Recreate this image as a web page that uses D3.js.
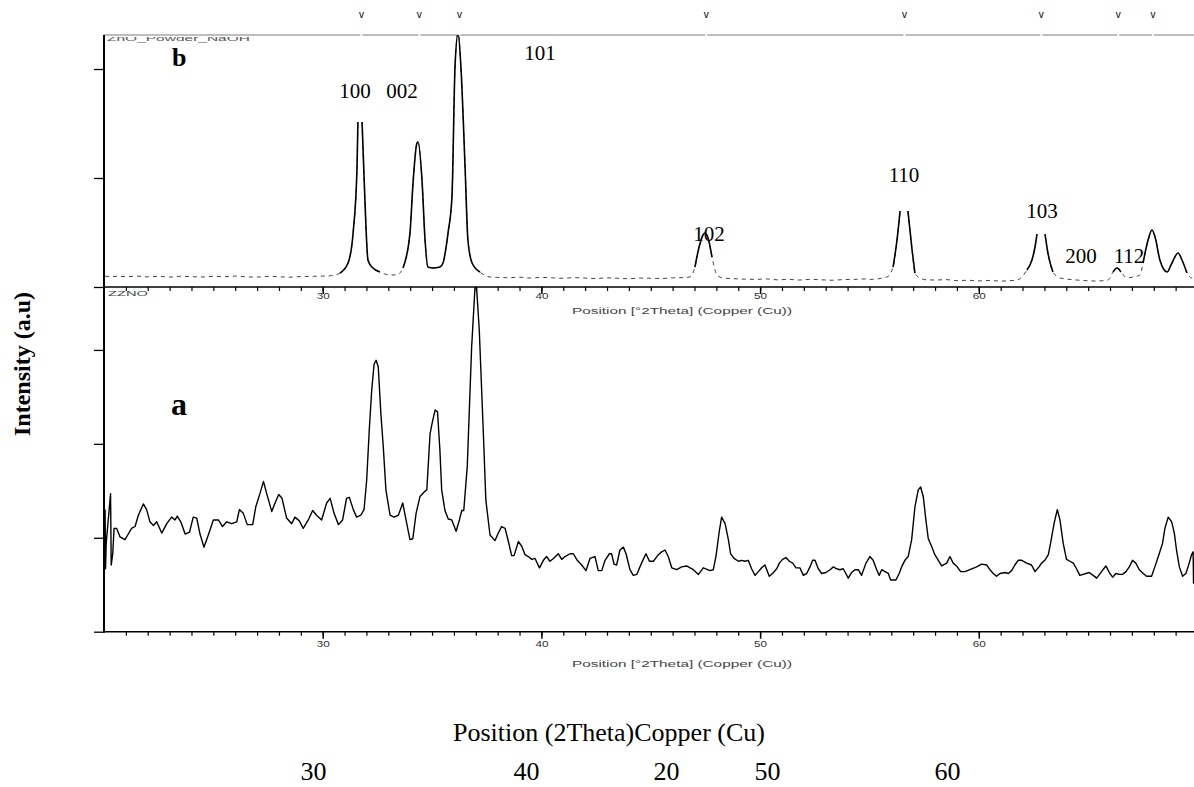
<!DOCTYPE html>
<html>
<head>
<meta charset="utf-8">
<script src="https://cdn.jsdelivr.net/npm/d3@7"></script>
<style>
  html, body { margin: 0; padding: 0; background: #fff; }
  svg { display: block; }
</style>
</head>
<body>
<svg id="chart" width="1194" height="787"></svg>
<script>
// reference peak positions (ZnO, 2theta) marked with "v" above panel b
var refPeaks = [31.77, 34.42, 36.25, 47.54, 56.60, 62.86, 66.38, 67.96];

// panel b : ZnO_Powder_NaOH  [2theta, counts]  (null = peak top hidden)
var scanB = [
  [20.05,100],[20.3,94],[20.6,99],[21.0,95],[21.5,100],[22.0,93],[22.5,97],[23.0,91],
  [23.5,99],[24.0,95],[24.5,92],[25.0,98],[25.5,94],[26.0,100],[26.5,93],[27.0,91],
  [27.5,98],[28.0,94],[28.5,90],[29.0,96],[29.5,98],[30.0,100],[30.4,104],
  [30.79,128],[31.16,220],[31.39,495],[31.57,1101],[31.61,1514],[31.71,null],[31.80,1514],
  [31.93,798],[32.07,248],[32.25,183],[32.62,138],[33.08,110],[33.4,112],
  [33.67,174],[33.99,495],[34.13,954],[34.31,1321],[34.36,1330],[34.54,982],[34.68,431],
  [34.81,183],[35.04,174],[35.36,183],
  [35.50,220],[35.73,495],[35.91,826],[36.05,2018],[36.19,2330],[36.32,2018],[36.51,1101],
  [36.64,431],[36.83,220],[37.19,138],[37.65,92],
  [38.0,88],[38.5,85],[39.0,90],[39.5,82],[40.0,88],[40.5,84],[41.0,80],[41.5,86],[42.0,82],
  [42.5,78],[43.0,84],[43.5,80],[44.0,76],[44.5,82],[45.0,80],[45.5,78],[46.0,84],[46.5,86],
  [46.79,92],[47.02,183],[47.21,367],[47.39,477],[47.48,495],[47.62,450],[47.80,275],
  [48.03,110],[48.30,83],
  [48.8,76],[49.3,72],[49.8,70],[50.3,74],[50.8,66],[51.3,70],[51.8,64],[52.3,70],[52.8,66],
  [53.3,62],[53.8,68],[54.3,70],[54.8,74],[55.03,70],
  [55.80,92],[56.08,183],[56.26,431],[56.40,697],[56.53,null],[56.76,697],[56.95,339],
  [57.08,128],[57.31,83],[57.6,66],[58.09,64],
  [58.5,68],[59.0,58],[59.5,62],[60.0,56],[60.5,60],[61.0,54],[61.4,58],[61.75,64],
  [62.20,156],[62.43,248],[62.57,367],[62.66,486],[62.85,null],[63.03,486],[63.16,312],
  [63.39,138],[63.71,83],[64.49,64],[65.40,55],
  [65.91,64],[66.14,138],[66.32,174],[66.50,138],[66.78,83],[67.05,92],[67.37,110],
  [67.51,220],[67.74,431],[67.92,523],[68.06,459],[68.28,248],[68.61,138],[68.83,220],
  [69.11,312],[69.29,248],[69.52,128],[69.75,83],[69.84,92]
];

// panel a : ZZNO  [2theta, counts]
var scanA = [
  [20.05,130],[20.07,67],[20.10,94],[20.30,147],[20.33,71],[20.40,83],[20.46,110],[20.58,110],
  [20.73,101],[20.96,98],[21.11,104],[21.26,110],[21.42,112],[21.57,124],[21.80,136],[21.95,130],
  [22.10,117],[22.26,113],[22.41,117],[22.64,105],[22.87,115],[23.09,122],[23.25,119],[23.35,123],
  [23.51,117],[23.71,104],[23.91,106],[24.08,122],[24.24,121],[24.39,104],[24.57,90],[24.77,103],
  [25.00,119],[25.23,119],[25.42,112],[25.61,117],[25.84,115],[26.07,117],[26.19,130],[26.37,126],
  [26.55,114],[26.80,114],[26.94,133],[27.13,147],[27.29,160],[27.44,147],[27.67,128],[27.82,137],
  [27.99,146],[28.14,142],[28.35,121],[28.58,115],[28.73,122],[28.93,118],[29.11,110],[29.34,119],
  [29.54,129],[29.72,124],[29.95,119],[30.18,137],[30.34,142],[30.52,126],[30.72,114],[30.91,119],
  [31.09,142],[31.22,143],[31.40,130],[31.55,122],[31.74,124],[31.89,130],[32.01,161],[32.13,215],
  [32.24,257],[32.35,285],[32.44,289],[32.54,282],[32.66,232],[32.77,197],[32.89,151],[33.08,124],
  [33.26,122],[33.46,124],[33.66,137],[33.81,119],[33.99,98],[34.12,99],[34.27,126],[34.45,144],
  [34.65,149],[34.76,151],[34.91,211],[35.03,225],[35.14,236],[35.25,234],[35.36,193],[35.44,151],
  [35.59,129],[35.74,120],[35.90,119],[36.10,107],[36.25,119],[36.36,129],[36.45,129],[36.61,176],
  [36.81,303],[36.96,365],[37.00,372],[37.04,365],[37.16,321],[37.34,215],[37.46,140],[37.65,103],
  [37.88,97],[38.03,105],[38.18,112],[38.34,110],[38.49,96],
  [38.64,81],[38.75,81],[38.95,96],[39.10,91],[39.25,82],[39.40,80],[39.56,77],[39.71,78],
  [39.91,68],[40.09,76],[40.24,80],[40.39,75],[40.55,78],[40.77,83],[40.93,77],[41.08,80],
  [41.31,83],[41.46,83],[41.64,76],[41.84,71],[42.04,65],[42.22,78],[42.45,80],[42.60,65],
  [42.76,65],[42.91,76],[43.11,83],[43.21,83],[43.32,72],[43.44,71],[43.59,87],[43.75,90],
  [43.87,83],[44.05,66],[44.20,60],[44.36,61],[44.58,73],[44.78,83],[44.94,75],[45.12,75],
  [45.35,82],[45.50,85],[45.65,87],[45.80,80],[45.96,68],[46.19,66],[46.41,69],[46.64,70],
  [46.80,68],[46.95,66],[47.18,61],[47.40,68],[47.71,65],[47.86,66],[47.98,80],[48.14,108],
  [48.24,122],[48.40,115],[48.55,98],[48.65,83],[48.81,78],[49.01,75],[49.16,76],[49.31,75],
  [49.46,76],[49.61,67],[49.77,60],[49.92,64],[50.07,68],[50.22,71],[50.42,59],[50.57,62],
  [50.76,67],[50.88,73],[51.03,77],[51.18,79],[51.34,75],[51.49,73],[51.64,68],[51.82,68],
  [51.98,60],[52.13,62],[52.28,69],[52.40,76],[52.51,76],[52.66,67],[52.82,62],[53.01,63],
  [53.20,66],[53.35,69],[53.50,67],[53.65,66],[53.80,67],[53.92,62],[54.03,57],[54.18,63],
  [54.34,66],[54.49,66],[54.64,60],[54.84,73],[55.02,80],[55.17,76],[55.33,66],[55.45,60],
  [55.56,66],[55.71,64],[55.86,62],[55.97,55],[56.21,55],[56.36,62],[56.47,69],[56.62,76],
  [56.77,80],[56.93,98],[57.08,133],[57.23,151],[57.34,154],[57.46,144],[57.58,119],[57.69,99],
  [57.84,91],[57.99,82],[58.15,76],[58.30,70],[58.53,73],[58.68,80],[58.83,73],[58.98,70],
  [59.17,64],[59.37,64],[59.59,66],[59.90,69],[60.13,72],[60.36,71],[60.51,66],[60.66,62],
  [60.81,59],[60.97,62],[61.19,63],[61.35,62],[61.50,65],[61.65,71],[61.80,76],[61.96,76],
  [62.19,73],[62.41,71],[62.57,64],[62.72,68],[62.87,73],[63.02,76],[63.18,82],[63.28,94],
  [63.44,115],[63.59,130],[63.71,119],[63.86,94],[64.01,77],[64.17,75],[64.32,73],[64.47,67],
  [64.62,60],[65.05,63],[65.23,60],[65.39,57],[65.61,64],[65.81,70],[65.97,63],[66.12,58],
  [66.27,62],[66.42,61],[66.57,61],[66.73,64],[66.88,69],[67.03,76],[67.18,73],[67.34,66],
  [67.52,62],[67.67,59],[67.90,59],[68.05,69],[68.25,83],[68.40,94],[68.51,110],[68.66,122],
  [68.82,117],[68.94,105],[69.04,87],[69.17,69],[69.32,59],[69.47,62],[69.62,73],[69.73,82],
  [69.80,85],[69.82,51]
];

var majorTicks = [30, 40, 50, 60];
var minorTicks = d3.range(21, 70);
var yTicksB = [0, 1000, 2000];
var yTicksA = [0, 100, 200, 300];

var peakLabels = ['100', '002', '101', '102', '110', '103', '200', '112'];
var bottomLabels = ['30', '40', '20', '50', '60'];

// layout only
var peakLabelPos = [[355,98],[402,98],[540,60],[709,241],[904,182],[1042,218],[1081,263],[1129,263]];
var bottomLabelX = [313.5, 526.5, 666.5, 767.5, 947.5];

var W = 1194, left = 104, topB = 35, baseB = 287, baseA = 631.7;
var serif = '"Liberation Serif", "Times New Roman", serif';
var sans = '"Liberation Sans", Arial, sans-serif';

var svg = d3.select('#chart');
svg.append('rect').attr('width', W).attr('height', 787).attr('fill', '#fff');

var x = d3.scaleLinear().domain([20, 70]).range([left, left + 50 * 21.87]);
var yB = d3.scaleLinear().domain([0, 2312]).range([baseB, topB]);
var yA = d3.scaleLinear().domain([0, 367]).range([baseA, baseB]);

var defs = svg.append('defs');
defs.append('clipPath').attr('id', 'clipB').append('rect')
  .attr('x', left).attr('y', topB).attr('width', W - left).attr('height', baseB - topB);
defs.append('clipPath').attr('id', 'clipA').append('rect')
  .attr('x', left).attr('y', baseB).attr('width', W - left).attr('height', baseA - baseB);
defs.append('clipPath').attr('id', 'clipName').append('rect')
  .attr('x', left).attr('y', topB + 2).attr('width', 200).attr('height', 9);

// top reference line with markers
svg.append('line')
  .attr('x1', left).attr('x2', W).attr('y1', topB).attr('y2', topB)
  .attr('stroke', '#a8a8a8').attr('stroke-width', 1.3);
svg.selectAll('line.gap').data(refPeaks).enter().append('line')
  .attr('class', 'gap')
  .attr('x1', function(d) { return x(d); }).attr('x2', function(d) { return x(d); })
  .attr('y1', topB - 2).attr('y2', topB + 1)
  .attr('stroke', '#fff').attr('stroke-width', 2);
svg.selectAll('text.mark').data(refPeaks).enter().append('text')
  .attr('class', 'mark')
  .attr('x', function(d) { return x(d); }).attr('y', 18)
  .attr('text-anchor', 'middle')
  .style('font-family', sans).style('font-size', '10px')
  .text('v');

function xAxes(y0, pad) {
  var gMinor = svg.append('g').attr('transform', 'translate(0,' + y0 + ')')
    .call(d3.axisBottom(x).tickValues(minorTicks).tickSize(4).tickFormat(''));
  gMinor.select('.domain').remove();
  gMinor.selectAll('line').attr('stroke', '#000').attr('stroke-width', 1.2);

  var gMajor = svg.append('g').attr('transform', 'translate(0,' + y0 + ')')
    .call(d3.axisBottom(x).tickValues(majorTicks).tickSize(7).tickPadding(pad));
  gMajor.select('.domain').remove();
  gMajor.selectAll('line').attr('stroke', '#000').attr('stroke-width', 1.5);
  gMajor.selectAll('text')
    .attr('fill', '#333')
    .attr('textLength', 13).attr('lengthAdjust', 'spacingAndGlyphs')
    .style('font-family', sans).style('font-size', '8.5px');

  svg.append('line')
    .attr('x1', left).attr('x2', W).attr('y1', y0).attr('y2', y0)
    .attr('stroke', '#000').attr('stroke-width', 1.5);
}

function yAxis(scale, ticks) {
  var g = svg.append('g').attr('transform', 'translate(' + left + ',0)')
    .call(d3.axisLeft(scale).tickValues(ticks).tickSize(10).tickFormat(''));
  g.select('.domain').remove();
  g.selectAll('line').attr('stroke', '#000').attr('stroke-width', 1.3);
}

xAxes(baseB, -1);
xAxes(baseA, 2);
yAxis(yB, yTicksB);
yAxis(yA, yTicksA);

svg.append('line')
  .attr('x1', left).attr('x2', left).attr('y1', topB).attr('y2', baseA + 1)
  .attr('stroke', '#000').attr('stroke-width', 2);

// small instrument titles
[314, 667].forEach(function(yy) {
  svg.append('text')
    .attr('x', 572).attr('y', yy)
    .attr('textLength', 220).attr('lengthAdjust', 'spacingAndGlyphs')
    .attr('fill', '#444')
    .style('font-family', sans).style('font-size', '8.5px')
    .text('Position [°2Theta] (Copper (Cu))');
});
svg.append('text')
  .attr('clip-path', 'url(#clipName)')
  .attr('x', 107).attr('y', 40.5)
  .attr('textLength', 143).attr('lengthAdjust', 'spacingAndGlyphs')
  .attr('fill', '#555')
  .style('font-family', sans).style('font-size', '8px')
  .text('ZnO_Powder_NaOH');
svg.append('text')
  .attr('x', 108).attr('y', 296)
  .attr('textLength', 40).attr('lengthAdjust', 'spacingAndGlyphs')
  .attr('fill', '#444')
  .style('font-family', sans).style('font-size', '8px')
  .text('ZZNO');

// traces
var lineB = d3.line()
  .defined(function(d) { return d[1] !== null; })
  .curve(d3.curveMonotoneX)
  .x(function(d) { return x(d[0]); })
  .y(function(d) { return yB(d[1]); });
var lineBPeak = d3.line()
  .defined(function(d) { return d[1] !== null && d[1] >= 115; })
  .curve(d3.curveMonotoneX)
  .x(function(d) { return x(d[0]); })
  .y(function(d) { return yB(d[1]); });
var lineA = d3.line()
  .x(function(d) { return x(d[0]); })
  .y(function(d) { return yA(d[1]); });

var gB = svg.append('g').attr('clip-path', 'url(#clipB)');
gB.append('path').datum(scanB)
  .attr('d', lineB)
  .attr('fill', 'none').attr('stroke', '#444').attr('stroke-width', 1)
  .attr('stroke-dasharray', '4 4');
gB.append('path').datum(scanB)
  .attr('d', lineBPeak)
  .attr('fill', 'none').attr('stroke', '#000').attr('stroke-width', 1.6);

svg.append('g').attr('clip-path', 'url(#clipA)')
  .append('path').datum(scanA)
  .attr('d', lineA)
  .attr('fill', 'none').attr('stroke', '#000').attr('stroke-width', 1.4)
  .attr('stroke-linejoin', 'round');

// annotations
svg.selectAll('text.hkl').data(peakLabels).enter().append('text')
  .attr('class', 'hkl')
  .attr('x', function(d, i) { return peakLabelPos[i][0]; })
  .attr('y', function(d, i) { return peakLabelPos[i][1]; })
  .attr('text-anchor', 'middle')
  .style('font-family', serif).style('font-size', '21px')
  .text(function(d) { return d; });

svg.append('text').attr('x', 172).attr('y', 66)
  .style('font-family', serif).style('font-size', '26px').style('font-weight', 'bold')
  .text('b');
svg.append('text').attr('x', 171).attr('y', 415)
  .style('font-family', serif).style('font-size', '32px').style('font-weight', 'bold')
  .text('a');

svg.append('text')
  .attr('transform', 'translate(30,364) rotate(-90)')
  .attr('text-anchor', 'middle')
  .style('font-family', serif).style('font-size', '24px').style('font-weight', 'bold')
  .text('Intensity (a.u)');

svg.append('text').attr('x', 453).attr('y', 741)
  .style('font-family', serif).style('font-size', '26px')
  .text('Position (2Theta)Copper (Cu)');

svg.selectAll('text.big').data(bottomLabels).enter().append('text')
  .attr('class', 'big')
  .attr('x', function(d, i) { return bottomLabelX[i]; })
  .attr('y', 780)
  .attr('text-anchor', 'middle')
  .style('font-family', serif).style('font-size', '26px')
  .text(function(d) { return d; });
</script>
</body>
</html>
